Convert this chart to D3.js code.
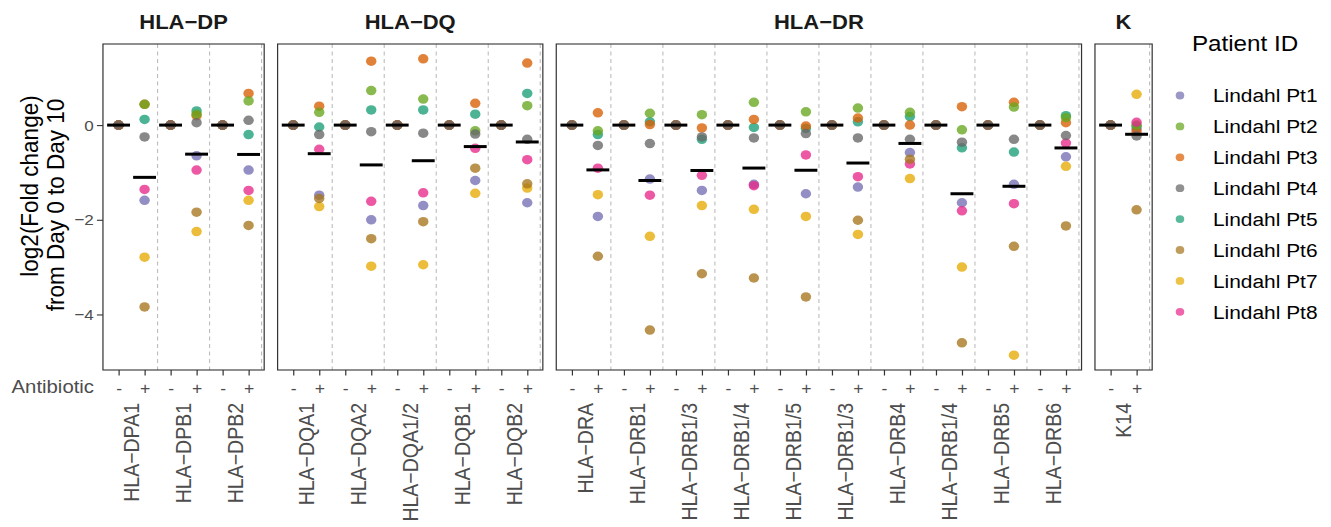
<!DOCTYPE html>
<html><head><meta charset="utf-8">
<script src="https://cdn.jsdelivr.net/npm/d3@7"></script>
<style>body{margin:0;background:#fff} svg{display:block}</style>
</head><body><svg id="chart"></svg>
<script>
// ---------- data ----------
const groups = ["HLA−DP", "HLA−DQ", "HLA−DR", "K"];
const genesDP = ["HLA−DPA1", "HLA−DPB1", "HLA−DPB2"];
const genesDQ = ["HLA−DQA1", "HLA−DQA2", "HLA−DQA1/2", "HLA−DQB1", "HLA−DQB2"];
const genesDR = ["HLA−DRA", "HLA−DRB1", "HLA−DRB1/3", "HLA−DRB1/4", "HLA−DRB1/5",
                 "HLA−DRB1/3", "HLA−DRB4", "HLA−DRB1/4", "HLA−DRB5", "HLA−DRB6"];
const genesK = ["K14"];
const conditions = ["-", "+"];
const patients = ["Lindahl Pt1", "Lindahl Pt2", "Lindahl Pt3", "Lindahl Pt4",
                  "Lindahl Pt5", "Lindahl Pt6", "Lindahl Pt7", "Lindahl Pt8"];
const patientColors = ["#7570b3", "#66a61e", "#d95f02", "#666666",
                       "#1b9e77", "#a6761d", "#e6ab02", "#e7298a"];
// Antibiotic "-" (Day 0 reference): every patient sits at 0 for every gene
const minusValues = [0,0,0, 0,0,0,0,0, 0,0,0,0,0,0,0,0,0,0, 0];
// Antibiotic "+" values, gene order: DPA1 DPB1 DPB2 | DQA1 DQA2 DQA1/2 DQB1 DQB2 | DRA DRB1 DRB1/3 DRB1/4 DRB1/5 DRB1/3 DRB4 DRB1/4 DRB5 DRB6 | K14
const pt1Plus = [-1.59,-0.65,-0.95, -1.48,-2.00,-1.70,-1.17,-1.64, -1.93,-1.14,-1.38,-1.25,-1.45,-1.31,-0.58,-1.64,-1.25,-0.67, -0.08];
const pt2Plus = [ 0.44, 0.23, 0.51,  0.27, 0.73, 0.55,-0.12, 0.41, -0.12, 0.25, 0.22, 0.48, 0.28, 0.36, 0.27,-0.10, 0.38, 0.16,  0.00];
const pt3Plus = [ 0.44, 0.20, 0.67,  0.40, 1.35, 1.40, 0.46, 1.31,  0.26, 0.01,-0.06, 0.12,-0.02, 0.15, 0.00, 0.39, 0.48, 0.05, -0.14];
const pt4Plus = [-0.25, 0.05, 0.10, -0.20,-0.14,-0.17,-0.19,-0.30, -0.43,-0.39,-0.25,-0.27,-0.18,-0.27,-0.30,-0.36,-0.30,-0.22, -0.23];
const pt5Plus = [ 0.12, 0.30,-0.20, -0.04, 0.32, 0.32, 0.23, 0.67, -0.20, 0.07,-0.30,-0.05,-0.07, 0.07, 0.18,-0.48,-0.57, 0.20, -0.02];
const pt6Plus = [-3.84,-1.84,-2.12, -1.55,-2.40,-2.04,-0.91,-1.24, -2.77,-4.33,-3.14,-3.23,-3.63,-2.01,-0.72,-4.60,-2.56,-2.13, -1.79];
const pt7Plus = [-2.79,-2.25,-1.59, -1.72,-2.98,-2.95,-1.44,-1.33, -1.47,-2.35,-1.70,-1.78,-1.93,-2.31,-1.13,-3.00,-4.86,-0.87,  0.65];
const pt8Plus = [-1.36,-0.95,-1.38, -0.51,-1.61,-1.43,-0.49,-0.73, -0.91,-1.48,-1.06,-1.28,-0.63,-1.09,-0.82,-1.81,-1.66,-0.38,  0.06];
const yTicks = [-4, -2, 0];
const drawOrder = [0, 4, 2, 1, 6, 7, 5, 3]; // layering of patients

// ---------- build ----------
const plusByPatient = [pt1Plus, pt2Plus, pt3Plus, pt4Plus, pt5Plus, pt6Plus, pt7Plus, pt8Plus];
const genesByGroup = [genesDP, genesDQ, genesDR, genesK];

const SX = 1.1;                // horizontal stretch of the whole drawing
const W = 1331 / SX, H = 527;
const svg = d3.select("#chart").attr("width", 1331).attr("height", H)
  .attr("viewBox", `0 0 ${W} ${H}`).attr("preserveAspectRatio", "none");
const FONT = "'Liberation Sans', Arial, Helvetica, sans-serif";

const plotTop = 44, plotBottom = 370;
const unit = 23.64, gap = 12.2, x0 = 93.6;

let geneIdx = 0;
const panels = genesByGroup.map((genes, gi) => {
  const items = genes.map(name => ({ name, idx: geneIdx++ }));
  return { group: groups[gi], genes: items };
});
const rows = [];
drawOrder.forEach(p => {
  panels.forEach(pn => pn.genes.forEach(g => {
    rows.push({ p, gene: g.idx, cond: "-", v: minusValues[g.idx] });
    rows.push({ p, gene: g.idx, cond: "+", v: plusByPatient[p][g.idx] });
  }));
});
const allV = rows.map(r => r.v);
const vmin = d3.min(allV), vmax = d3.max(allV), span = vmax - vmin;
const y = d3.scaleLinear().domain([vmin - 0.05 * span, vmax + 0.05 * span]).range([plotBottom, plotTop]);

let cursor = x0;
panels.forEach(pn => {
  const keys = [];
  pn.genes.forEach(g => conditions.forEach(c => keys.push(g.idx + "|" + c)));
  const width = (keys.length - 1 + 1.2) * unit;
  pn.x = d3.scalePoint().domain(keys).range([cursor, cursor + width]).padding(0.6);
  pn.left = cursor; pn.right = cursor + width;
  cursor += width + gap;
});
const xOf = r => panels.find(pn => pn.genes.some(g => g.idx === r.gene)).x(r.gene + "|" + r.cond);

panels.forEach(pn => {
  const g = svg.append("g");
  g.append("rect").attr("x", pn.left).attr("y", plotTop).attr("width", pn.right - pn.left)
    .attr("height", plotBottom - plotTop).attr("fill", "#fff");
  const step = pn.x.step();
  pn.genes.forEach(gn => {
    const xs = pn.x(gn.idx + "|+") + step / 2;
    g.append("line").attr("x1", xs).attr("x2", xs).attr("y1", plotTop).attr("y2", plotBottom)
      .attr("stroke", "#bdbdbd").attr("stroke-width", 1).attr("stroke-dasharray", "4,3.5");
  });
  svg.append("text").attr("x", (pn.left + pn.right) / 2).attr("y", 29.5)
    .attr("text-anchor", "middle").attr("font-family", FONT).attr("font-weight", "bold")
    .attr("font-size", 20).attr("fill", "#1a1a1a").text(pn.group);
  const ax = svg.append("g").attr("transform", `translate(0,${plotBottom})`)
    .call(d3.axisBottom(pn.x).tickSize(5.5).tickPadding(3)
      .tickFormat(k => k.split("|")[1]));
  ax.select(".domain").remove();
  ax.selectAll(".tick line").attr("stroke", "#333").attr("stroke-width", 1.1);
  ax.selectAll(".tick text").attr("font-family", FONT).attr("font-size", 16)
    .attr("fill", "#4d4d4d").attr("dy", "0.95em");
  pn.genes.forEach(gn => {
    const cx = (pn.x(gn.idx + "|-") + pn.x(gn.idx + "|+")) / 2;
    svg.append("text").attr("transform", `translate(${cx},403) rotate(-90)`)
      .attr("text-anchor", "end").attr("dy", "0.36em").attr("font-family", FONT)
      .attr("font-size", 19.5).attr("fill", "#4d4d4d").text(gn.name);
  });
});

// points
svg.append("g").selectAll("circle").data(rows).join("circle")
  .attr("cx", xOf).attr("cy", r => y(r.v)).attr("r", 4.75)
  .attr("fill", r => patientColors[r.p]).attr("fill-opacity", 0.78);

// mean bars
const means = [];
panels.forEach(pn => pn.genes.forEach(gn => conditions.forEach(c => {
  const vals = rows.filter(r => r.gene === gn.idx && r.cond === c).map(r => r.v);
  means.push({ gene: gn.idx, cond: c, v: d3.mean(vals) });
})));
const halfBar = 0.44 * unit;
svg.append("g").selectAll("line").data(means).join("line")
  .attr("x1", d => xOf(d) - halfBar).attr("x2", d => xOf(d) + halfBar)
  .attr("y1", d => y(d.v)).attr("y2", d => y(d.v))
  .attr("stroke", "#000").attr("stroke-width", 3);

panels.forEach(pn => {
  svg.append("rect").attr("x", pn.left).attr("y", plotTop).attr("width", pn.right - pn.left)
    .attr("height", plotBottom - plotTop).attr("fill", "none").attr("stroke", "#333").attr("stroke-width", 1.1);
});

// y axis
const ya = svg.append("g").attr("transform", `translate(${x0},0)`)
  .call(d3.axisLeft(y).tickValues(yTicks).tickFormat(d3.format("d")).tickSize(5.5).tickPadding(3));
ya.select(".domain").remove();
ya.selectAll(".tick line").attr("stroke", "#333").attr("stroke-width", 1.1);
ya.selectAll(".tick text").attr("font-family", FONT).attr("font-size", 15.5).attr("fill", "#4d4d4d");

// y title
const yt = svg.append("g").attr("font-family", FONT).attr("font-size", 22.5).attr("fill", "#000")
  .attr("text-anchor", "middle");
yt.append("text").attr("transform", `translate(26,186) rotate(-90)`).attr("dy", "0.36em").text("log2(Fold change)");
yt.append("text").attr("transform", `translate(50,205) rotate(-90)`).attr("dy", "0.36em").text("from Day 0 to Day 10");

// Antibiotic label
svg.append("text").attr("x", 85.5).attr("y", 386).attr("dy", "0.36em").attr("text-anchor", "end")
  .attr("font-family", FONT).attr("font-size", 18.5).attr("fill", "#4d4d4d").text("Antibiotic");

// legend
const lg = svg.append("g").attr("font-family", FONT);
lg.append("text").attr("x", 1083.6).attr("y", 50.7).attr("font-size", 22).attr("fill", "#000").text("Patient ID");
patients.forEach((p, i) => {
  const yy = 95.5 + i * 30.9;
  lg.append("circle").attr("cx", 1072.7).attr("cy", yy).attr("r", 3.9)
    .attr("fill", patientColors[i]).attr("fill-opacity", 0.72);
  lg.append("text").attr("x", 1102.7).attr("y", yy).attr("dy", "0.36em").attr("font-size", 19)
    .attr("fill", "#000").text(p);
});
</script></body></html>
